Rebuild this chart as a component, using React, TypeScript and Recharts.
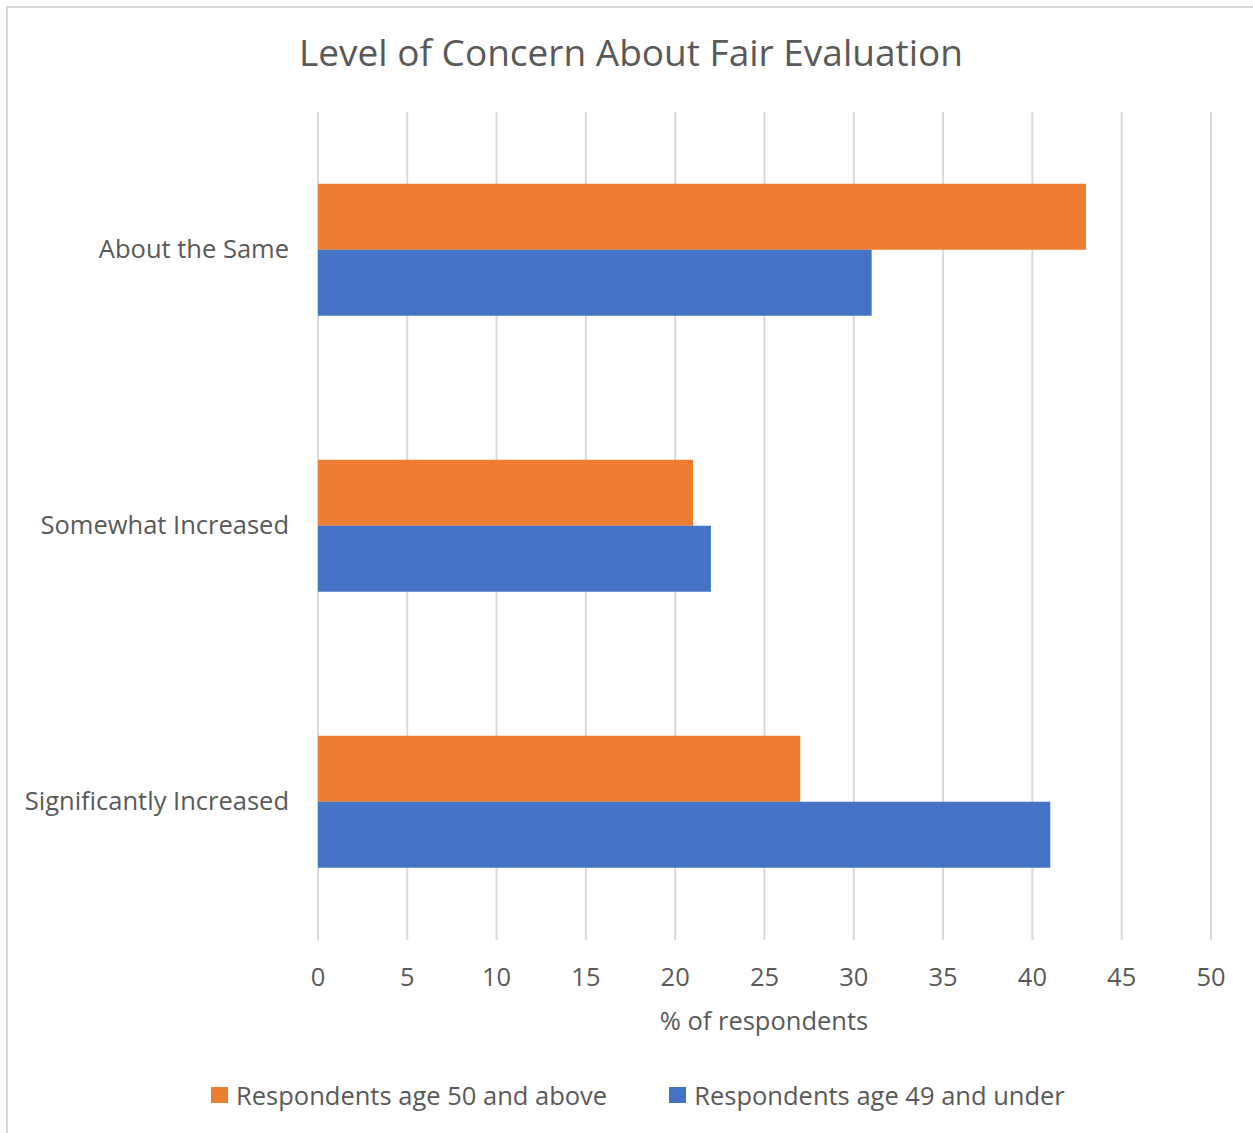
import React from "react";
import { BarChart, Bar, XAxis, YAxis, CartesianGrid } from "recharts";

const categories = ["About the Same", "Somewhat Increased", "Significantly Increased"];
const olderValues = [43, 21, 27];
const youngerValues = [31, 22, 41];
const xTicks = [0, 5, 10, 15, 20, 25, 30, 35, 40, 45, 50];

const series = [
  { key: "older", name: "Respondents age 50 and above", color: "#ED7D31" },
  { key: "younger", name: "Respondents age 49 and under", color: "#4472C4" },
];

const data = categories.map((c, i) => ({ name: c, older: olderValues[i], younger: youngerValues[i] }));

const FONT = "'Open Sans', 'Noto Sans', sans-serif";
const TEXT = "#595959";
const FS = 25.5;

export default function App() {
  return (
    <div style={{ position: "absolute", left: 0, top: 0, width: 1253, height: 1133, overflow: "hidden", background: "#fff", fontFamily: FONT }}>
      {/* chart border (right/bottom edges fall outside the crop) */}
      <div style={{ position: "absolute", left: 6, top: 6, width: 1300, height: 1200, border: "2px solid #d9d9d9" }} />
      <div style={{ position: "absolute", left: 0, width: 1262, top: 26, textAlign: "center", fontSize: 37, color: TEXT }}>
        Level of Concern About Fair Evaluation
      </div>
      <div style={{ position: "absolute", left: 0, top: 0 }}>
        <BarChart
          width={1253}
          height={1133}
          data={data}
          layout="vertical"
          margin={{ top: 112, right: 42, bottom: 133, left: 0 }}
          barCategoryGap="26%"
          barGap={0}
        >
          <CartesianGrid horizontal={false} stroke="#d9d9d9" strokeWidth={2} />
          <XAxis
            type="number"
            domain={[0, 50]}
            ticks={xTicks}
            interval={0}
            height={60}
            axisLine={false}
            tickLine={false}
            tickSize={0}
            tickMargin={28}
            tick={{ fontSize: FS, fill: TEXT, fontFamily: FONT }}
          />
          <YAxis
            type="category"
            dataKey="name"
            width={318}
            axisLine={false}
            tickLine={false}
            tickSize={0}
            tickMargin={29}
            tick={{ fontSize: FS, fill: TEXT, fontFamily: FONT, dy: -1 }}
          />
          {series.map((s) => (
            <Bar key={s.key} dataKey={s.key} name={s.name} fill={s.color} isAnimationActive={false} />
          ))}
        </BarChart>
      </div>
      <div style={{ position: "absolute", left: 0, width: 1528, top: 1003, textAlign: "center", fontSize: FS, color: TEXT }}>
        % of respondents
      </div>
      <div style={{ position: "absolute", left: 211, top: 1078, display: "flex", alignItems: "center", fontSize: FS, color: TEXT }}>
        {series.map((s, i) => (
          <div key={s.key} style={{ display: "flex", alignItems: "center", marginRight: i === 0 ? 62 : 0 }}>
            <span style={{ display: "inline-block", width: 17, height: 16, background: s.color, marginRight: 8 }} />
            <span>{s.name}</span>
          </div>
        ))}
      </div>
    </div>
  );
}
